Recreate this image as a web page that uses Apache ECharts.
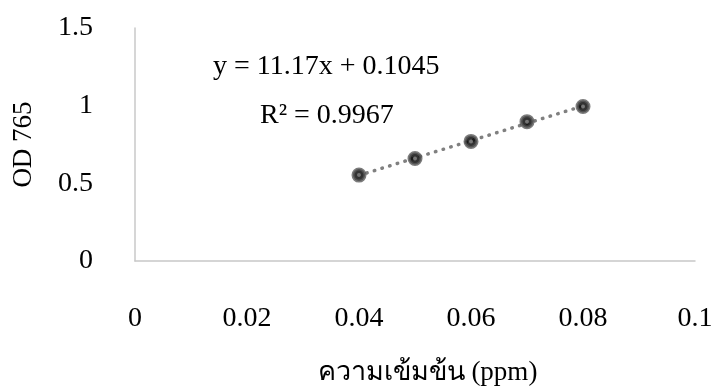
<!DOCTYPE html>
<html>
<head>
<meta charset="utf-8">
<script src="https://cdn.jsdelivr.net/npm/echarts@6/dist/echarts.min.js"></script>
<style>
html,body{margin:0;padding:0;background:#fff;}
#chart{width:712px;height:387px;}
</style>
</head>
<body>
<div id="chart"></div>
<script>
// Data
const concentration = [0.04, 0.05, 0.06, 0.07, 0.08];
const od765 = [0.553, 0.660, 0.770, 0.897, 0.995];
const trendSlope = 11.17;
const trendIntercept = 0.1045;
const equationText = 'y = 11.17x + 0.1045';
const r2Text = 'R² = 0.9967';
const xTicks = [0, 0.02, 0.04, 0.06, 0.08, 0.1];
const yTicks = [0, 0.5, 1, 1.5];
const xName = 'ความเข้มข้น (ppm)';
const yName = 'OD 765';

const points = concentration.map((x, i) => [x, od765[i]]);
const xFirst = concentration[0], xLast = concentration[concentration.length - 1];
const trend = [[xFirst, trendSlope * xFirst + trendIntercept], [xLast, trendSlope * xLast + trendIntercept]];

const font = '"Liberation Serif", "Times New Roman", serif';
const chart = echarts.init(document.getElementById('chart'));
chart.setOption({
  animation: false,
  backgroundColor: '#fff',
  grid: { left: 135, right: 17, top: 28, bottom: 126, containLabel: false, outerBoundsMode: 'none' },
  xAxis: {
    type: 'value', min: xTicks[0], max: xTicks[xTicks.length - 1], interval: 0.02,
    axisLine: { show: true, onZero: false, lineStyle: { color: '#c8c8c8', width: 1.5 } },
    axisTick: { show: false },
    splitLine: { show: false },
    axisLabel: { margin: 44, fontFamily: font, fontSize: 28, color: '#000',
      formatter: v => String(+v.toFixed(2)) },
    name: xName, nameLocation: 'middle', nameGap: 98,
    nameTextStyle: { fontFamily: font, fontSize: 27, color: '#000', padding: [0, 0, 0, 25] }
  },
  yAxis: {
    type: 'value', min: yTicks[0], max: yTicks[yTicks.length - 1], interval: 0.5,
    axisLine: { show: true, onZero: false, lineStyle: { color: '#c8c8c8', width: 1.5 } },
    axisTick: { show: false },
    splitLine: { show: false },
    axisLabel: { margin: 42, fontFamily: font, fontSize: 28, color: '#000',
      formatter: v => String(v) },
    name: yName, nameLocation: 'middle', nameGap: 98, nameRotate: 90,
    nameTextStyle: { fontFamily: font, fontSize: 27, color: '#000' }
  },
  series: [
    {
      type: 'line', data: trend, symbol: 'none', silent: true,
      lineStyle: { color: '#808080', width: 3.5, type: [0.5, 7.5], cap: 'round' },
      z: 1
    },
    {
      type: 'scatter', data: points, symbol: 'circle', symbolSize: 12,
      itemStyle: { color: '#000', borderColor: '#5a5a5a', borderWidth: 3 },
      z: 2
    },
    {
      type: 'scatter', data: points, symbol: 'circle', symbolSize: 4, silent: true,
      itemStyle: { color: '#8a8a8a' },
      z: 3
    }
  ],
  graphic: [
    { type: 'text', left: 213, top: 53, style: { text: equationText, font: '28px ' + font, fill: '#000' } },
    { type: 'text', left: 260, top: 102, style: { text: r2Text, font: '28px ' + font, fill: '#000' } }
  ]
});
</script>
</body>
</html>
